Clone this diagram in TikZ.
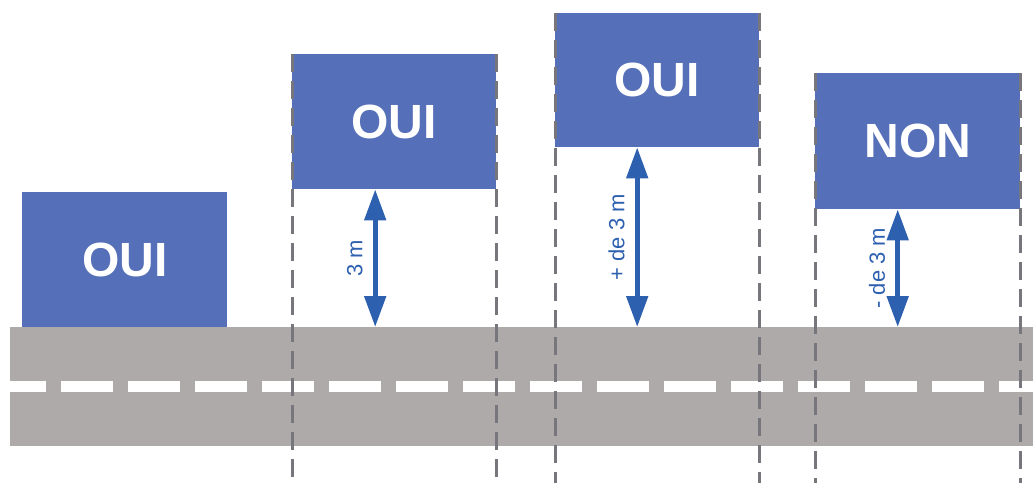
\documentclass[tikz,border=0pt]{standalone}
\usepackage{fontspec}
\setmainfont{Liberation Sans}
\usepackage{xcolor}
\usetikzlibrary{positioning,arrows.meta}

\definecolor{panelblue}{HTML}{5570B8}
\definecolor{gapblue}{HTML}{2D60AF}
\definecolor{roadgrey}{HTML}{ADAAA9}
\definecolor{guidegrey}{HTML}{76767C}

\begin{document}
\begin{tikzpicture}[x=1pt, y=-1pt,
  panel/.style={fill=panelblue, text=white, inner sep=0pt, anchor=north west,
    font=\fontsize{48}{52}\selectfont\bfseries},
  guide/.style={guidegrey, line width=3pt, dash pattern=on 18pt off 9pt},
  stripe/.style={white, line width=11pt, dash pattern=on 52pt off 15pt, dash phase=16pt},
  gap/.style={gapblue, line width=5pt,
    {Triangle[length=31pt,width=21pt]}-{Triangle[length=31pt,width=21pt]}},
  gaplabel/.style={gapblue, inner sep=0pt, xshift=-10pt, rotate=90, anchor=south,
    font=\fontsize{22}{24}\selectfont}]

\path[fill=white] (0,0) rectangle (1033,483);
\useasboundingbox (0,0) rectangle (1033,483);
\coordinate (bottom) at (0,483);

\node[fill=roadgrey, inner sep=0pt, anchor=north west, minimum width=1023pt, minimum height=119pt] (road) at (10,327) {};
\draw[stripe] (road.west) -- (road.east);

\node[panel, minimum width=205pt, minimum height=135pt] (panel1) at (22,192) {OUI};
\node[panel, minimum width=204pt, minimum height=135pt] (panel2) at (292,54) {OUI};
\node[panel, minimum width=204pt, minimum height=134pt] (panel3) at (555,13) {OUI};
\node[panel, minimum width=205pt, minimum height=136pt] (panel4) at (815,73) {NON};

\foreach \p in {panel2,panel3,panel4} {
  \draw[guide] (\p.north west) -- (\p.north west |- bottom);
  \draw[guide] (\p.north east) -- (\p.north east |- bottom);
}

\draw[gap] ([xshift=-19pt]panel2.south) -- ([xshift=-19pt]panel2.south |- road.north)
    node[midway, gaplabel] (label2) {3 m};
\draw[gap] ([xshift=-20pt]panel3.south) -- ([xshift=-20pt]panel3.south |- road.north)
    node[midway, gaplabel] (label3) {+ de 3 m};
\draw[gap] ([xshift=-20pt]panel4.south) -- ([xshift=-20pt]panel4.south |- road.north)
    node[midway, gaplabel] (label4) {- de 3 m};

\end{tikzpicture}
\end{document}
